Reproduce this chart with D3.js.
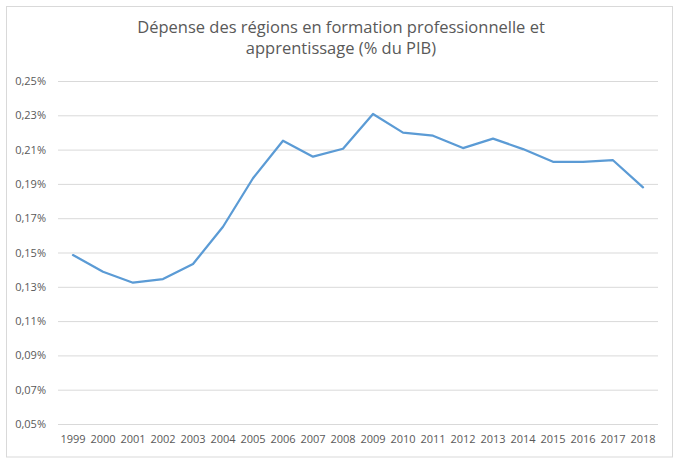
<!DOCTYPE html>
<html><head><meta charset="utf-8">
<script src="https://cdn.jsdelivr.net/npm/d3@7"></script>
<style>body{margin:0;background:#fff}svg{display:block}text{font-family:"Open Sans",sans-serif}</style>
</head><body>
<svg id="c" width="680" height="465"></svg>
<script>
const years = ["1999","2000","2001","2002","2003","2004","2005","2006","2007","2008","2009","2010","2011","2012","2013","2014","2015","2016","2017","2018"];
const values = [0.1485,0.1388,0.1324,0.1345,0.1433,0.1650,0.1933,0.2152,0.2059,0.2105,0.2308,0.2199,0.2181,0.2109,0.2164,0.2103,0.2029,0.2029,0.2038,0.1880];
const yTicks = [0.05,0.07,0.09,0.11,0.13,0.15,0.17,0.19,0.21,0.23,0.25];
const titleLines = ["Dépense des régions en formation professionnelle et","apprentissage (% du PIB)"];

const svg = d3.select("#c");
svg.append("rect").attr("x",6.5).attr("y",6.5).attr("width",666).attr("height",450.5)
  .attr("fill","#fff").attr("stroke","#d9d9d9").attr("stroke-width",1);

const x = d3.scaleBand().domain(years).range([58,658]);
const y = d3.scaleLinear().domain([0.05,0.25]).range([424,81]);

const fmt = v => v.toFixed(2).replace(".",",") + "%";

const ya = svg.append("g").attr("transform","translate(58,0)")
  .call(d3.axisLeft(y).tickValues(yTicks).tickFormat(fmt).tickSize(-600).tickPadding(12));
ya.select(".domain").remove();
ya.selectAll(".tick line").attr("stroke","#d9d9d9").attr("stroke-width",1);
ya.selectAll(".tick text").attr("fill","#595959").style("font-size","11px");

const xa = svg.append("g").attr("transform","translate(0,424)")
  .call(d3.axisBottom(x).tickSize(0).tickPadding(11));
xa.select(".domain").remove();
xa.selectAll(".tick text").attr("fill","#595959").style("font-size","11px");

const line = d3.line().x((d,i)=>x(years[i])+x.bandwidth()/2).y(d=>y(d));
svg.append("path").datum(values).attr("d",line).attr("fill","none")
  .attr("stroke","#5b9bd5").attr("stroke-width",2.25).attr("stroke-linejoin","round").attr("stroke-linecap","round");

svg.append("g").selectAll("text").data(titleLines).join("text")
  .attr("x",341).attr("y",(d,i)=>33+i*21).attr("text-anchor","middle")
  .attr("fill","#595959").style("font-size","16.5px").text(d=>d);
</script>
</body></html>
